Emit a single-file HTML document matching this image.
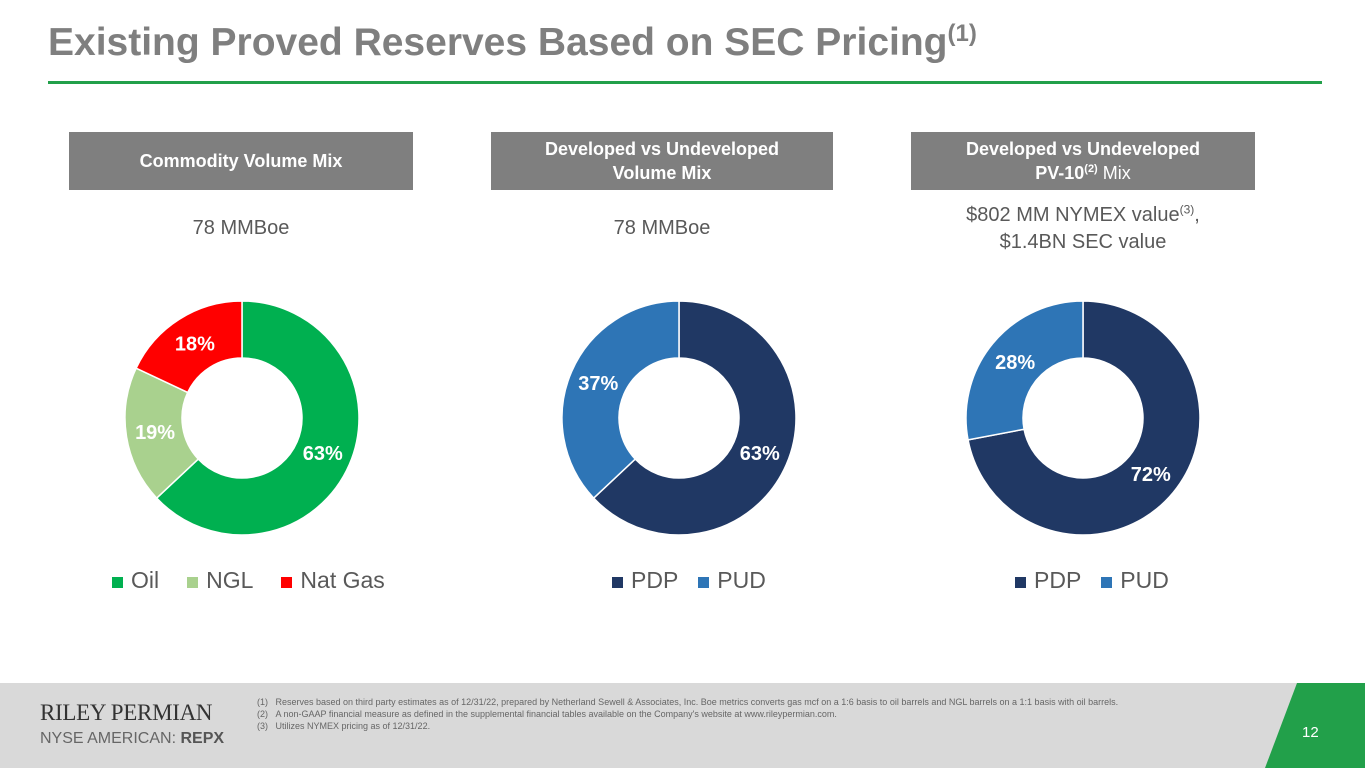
<!DOCTYPE html>
<html><head><meta charset="utf-8"><style>
body{margin:0;width:1365px;height:768px;background:#fff;position:relative;overflow:hidden;font-family:"Liberation Sans",sans-serif}
.abs{position:absolute}
.hdr{position:absolute;top:132px;height:58px;background:#7f7f7f;color:#fff;font-weight:bold;font-size:18px;box-sizing:border-box;text-align:center;line-height:24px}
.hdr.one{line-height:58px}
.hdr.two{padding-top:5px}
.sub{position:absolute;color:#595959;font-size:20px;text-align:center;line-height:27px}
.leg{position:absolute;top:567px;font-size:23px;color:#595959;display:flex;gap:20px;align-items:center}
.leg span.sw{display:inline-block;width:11px;height:11px;margin-right:8px}
</style></head><body>
<div class="abs" style="left:48px;top:20px;font-size:39px;font-weight:bold;color:#7f7f7f;white-space:nowrap">Existing Proved Reserves Based on SEC Pricing<sup style="font-size:24px">(1)</sup></div>
<div class="abs" style="left:48px;top:81px;width:1274px;height:3px;background:#22a04a"></div>

<div class="hdr one" style="left:69px;width:344px">Commodity Volume Mix</div>
<div class="hdr two" style="left:491px;width:342px">Developed vs Undeveloped<br>Volume Mix</div>
<div class="hdr two" style="left:911px;width:344px">Developed vs Undeveloped<br>PV-10<sup style="font-size:11px;line-height:0">(2)</sup> <span style="font-weight:normal">Mix</span></div>

<div class="sub" style="left:69px;width:344px;top:215px">78 MMBoe</div>
<div class="sub" style="left:491px;width:342px;top:215px">78 MMBoe</div>
<div class="sub" style="left:911px;width:344px;top:202px">$802 MM NYMEX value<sup style="font-size:12px;line-height:0">(3)</sup>,<br>$1.4BN SEC value</div>

<svg class="abs" style="left:0;top:0" width="1365" height="768" id="charts"></svg>

<div class="leg" style="left:112px;gap:28px"><div><span class="sw" style="background:#00b050"></span>Oil</div><div><span class="sw" style="background:#a9d18e"></span>NGL</div><div><span class="sw" style="background:#ff0000"></span>Nat Gas</div></div>
<div class="leg" style="left:612px"><div><span class="sw" style="background:#203864"></span>PDP</div><div><span class="sw" style="background:#2e75b6"></span>PUD</div></div>
<div class="leg" style="left:1015px"><div><span class="sw" style="background:#203864"></span>PDP</div><div><span class="sw" style="background:#2e75b6"></span>PUD</div></div>

<div class="abs" style="left:0;top:683px;width:1365px;height:85px;background:#d9d9d9"></div>
<svg class="abs" style="left:0;top:683px" width="1365" height="85"><polygon points="1297,0 1365,0 1365,85 1265,85" fill="#22a04a"/></svg>
<div class="abs" style="left:1302px;top:724px;color:#fff;font-size:15px">12</div>
<div class="abs" style="left:40px;top:700px;font-family:'Liberation Serif',serif;font-size:23px;color:#333;letter-spacing:-0.3px;white-space:nowrap">RILEY PERMIAN</div>
<div class="abs" style="left:40px;top:730px;font-size:16px;color:#666;white-space:nowrap">NYSE AMERICAN: <b style="color:#555">REPX</b></div>
<div class="abs" style="left:257px;top:696px;font-size:9px;color:#666;line-height:12px;white-space:nowrap">(1)&nbsp;&nbsp;&nbsp;Reserves based on third party estimates as of 12/31/22, prepared by Netherland Sewell &amp; Associates, Inc. Boe metrics converts gas mcf on a 1:6 basis to oil barrels and NGL barrels on a 1:1 basis with oil barrels.<br>(2)&nbsp;&nbsp;&nbsp;A non-GAAP financial measure as defined in the supplemental financial tables available on the Company's website at www.rileypermian.com.<br>(3)&nbsp;&nbsp;&nbsp;Utilizes NYMEX pricing as of 12/31/22.</div>

<script>
const chart1Labels=["Oil","NGL","Nat Gas"];
const chart1Values=[63,19,18];
const chart2Labels=["PDP","PUD"];
const chart2Values=[63,37];
const chart3Labels=["PDP","PUD"];
const chart3Values=[72,28];
const charts=[
 {labels:chart1Labels,values:chart1Values,cx:242,colors:["#00b050","#a9d18e","#ff0000"]},
 {labels:chart2Labels,values:chart2Values,cx:679,colors:["#203864","#2e75b6"]},
 {labels:chart3Labels,values:chart3Values,cx:1083,colors:["#203864","#2e75b6"]}
];
const svg=document.getElementById('charts');
const NS='http://www.w3.org/2000/svg';
const cy=418,R=117,r=60;
function pt(cx,a,rad){return [cx+rad*Math.sin(a),cy-rad*Math.cos(a)];}
charts.forEach((c,ci)=>{
 const tot=c.values.reduce((a,b)=>a+b,0);let acc=0;
 c.values.forEach((v,i)=>{
  const a0=acc/tot*2*Math.PI;acc+=v;const a1=acc/tot*2*Math.PI;
  const lg=(a1-a0)>Math.PI?1:0;
  const p0=pt(c.cx,a0,R),p1=pt(c.cx,a1,R),q1=pt(c.cx,a1,r),q0=pt(c.cx,a0,r);
  const p=document.createElementNS(NS,'path');
  p.setAttribute('d',`M${p0}A${R},${R} 0 ${lg} 1 ${p1}L${q1}A${r},${r} 0 ${lg} 0 ${q0}Z`);
  p.setAttribute('fill',c.colors[i]);p.setAttribute('stroke','#fff');p.setAttribute('stroke-width','1.5');
  
  
  svg.appendChild(p);
  const m=(a0+a1)/2,lp=pt(c.cx,m,88);
  const t=document.createElementNS(NS,'text');
  t.setAttribute('x',lp[0]);t.setAttribute('y',lp[1]+7);t.setAttribute('text-anchor','middle');
  t.setAttribute('font-size','20');t.setAttribute('font-weight','bold');t.setAttribute('fill','#fff');
  t.setAttribute('font-family','Liberation Sans, sans-serif');
  t.textContent=v+'%';
  
  
  svg.appendChild(t);
 });
});
</script>
</body></html>
